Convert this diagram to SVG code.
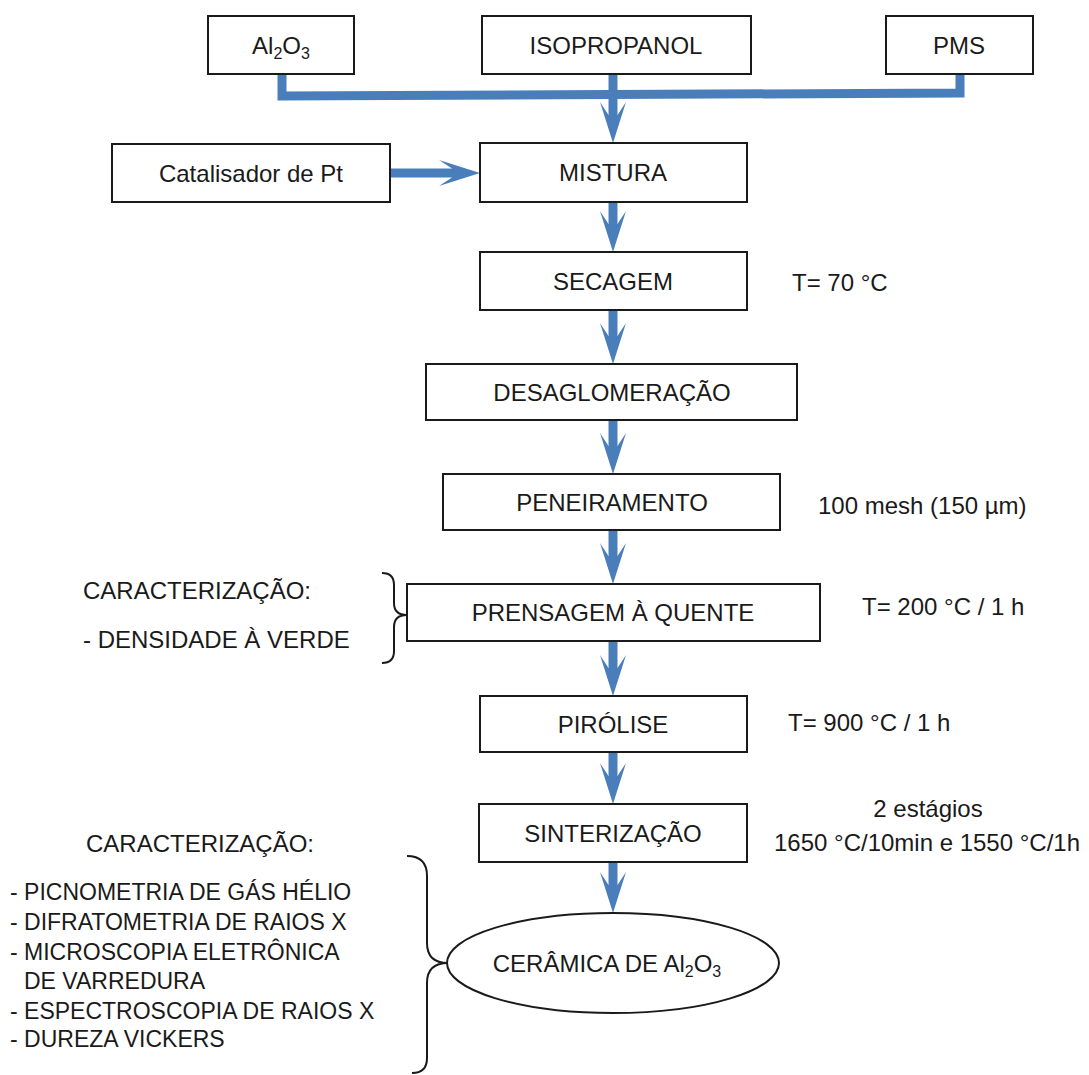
<svg xmlns="http://www.w3.org/2000/svg" width="1089" height="1075" viewBox="0 0 1089 1075">
<style>
.box{fill:#fff;stroke:#1a1a1a;stroke-width:2}
.t{font-family:"Liberation Sans",Arial,sans-serif;font-size:24px;fill:#1a1a1a}
.s{font-size:23px}
.c{text-anchor:middle}
.ln{fill:none;stroke:#4A7EBB;stroke-width:9}
.ah{fill:#4A7EBB}
.br{fill:none;stroke:#1a1a1a;stroke-width:2}
</style>
<defs>
<path id="ad" d="M0,0 L-13,-41 L-4.5,-28 L4.5,-28 L13,-41 Z"/>
</defs>
<rect width="1089" height="1075" fill="#fff"/>
<g id="connectors">
<polyline class="ln" points="282,74 282,96 960,93 960,74"/>
<line class="ln" x1="613" y1="74" x2="613" y2="117"/>
<use href="#ad" class="ah" x="613" y="143"/>
<line class="ln" x1="390" y1="173" x2="454" y2="173"/>
<use href="#ad" class="ah" transform="translate(480,173) rotate(-90)"/>
<line class="ln" x1="613" y1="202" x2="613" y2="226"/>
<use href="#ad" class="ah" x="613" y="252"/>
<line class="ln" x1="613" y1="310" x2="613" y2="338"/>
<use href="#ad" class="ah" x="613" y="364"/>
<line class="ln" x1="613" y1="420" x2="613" y2="448"/>
<use href="#ad" class="ah" x="613" y="474"/>
<line class="ln" x1="613" y1="530" x2="613" y2="558"/>
<use href="#ad" class="ah" x="613" y="584"/>
<line class="ln" x1="613" y1="641" x2="613" y2="670"/>
<use href="#ad" class="ah" x="613" y="696"/>
<line class="ln" x1="613" y1="752" x2="613" y2="778"/>
<use href="#ad" class="ah" x="613" y="804"/>
<line class="ln" x1="613" y1="862" x2="613" y2="887"/>
<use href="#ad" class="ah" x="613" y="913"/>
</g>
<g id="n-al2o3"><rect class="box" x="208" y="16" width="146" height="58"/><text class="t c" x="281" y="54">Al<tspan font-size="16" dy="5">2</tspan><tspan dy="-5">O</tspan><tspan font-size="16" dy="5">3</tspan></text></g>
<g id="n-isopropanol"><rect class="box" x="482" y="16" width="269" height="58"/><text class="t c" x="616" y="54">ISOPROPANOL</text></g>
<g id="n-pms"><rect class="box" x="886" y="16" width="147" height="58"/><text class="t c" x="959" y="54">PMS</text></g>
<g id="n-catalisador"><rect class="box" x="112" y="144" width="278" height="58"/><text class="t c" x="251" y="182">Catalisador de Pt</text></g>
<g id="n-mistura"><rect class="box" x="480" y="143" width="267" height="59"/><text class="t c" x="613" y="181">MISTURA</text></g>
<g id="n-secagem"><rect class="box" x="480" y="252" width="267" height="58"/><text class="t c" x="613" y="290">SECAGEM</text></g>
<g id="n-desaglomeracao"><rect class="box" x="426" y="364" width="371" height="56"/><text class="t c" x="612" y="401">DESAGLOMERAÇÃO</text></g>
<g id="n-peneiramento"><rect class="box" x="443" y="474" width="337" height="56"/><text class="t c" x="612" y="511">PENEIRAMENTO</text></g>
<g id="n-prensagem"><rect class="box" x="407" y="584" width="413" height="57"/><text class="t c" x="613" y="621">PRENSAGEM À QUENTE</text></g>
<g id="n-pirolise"><rect class="box" x="480" y="696" width="267" height="56"/><text class="t c" x="613" y="733">PIRÓLISE</text></g>
<g id="n-sinterizacao"><rect class="box" x="479" y="804" width="268" height="58"/><text class="t c" x="613" y="842">SINTERIZAÇÃO</text></g>
<g id="n-ceramica"><ellipse class="box" cx="613" cy="963" rx="166" ry="50"/><text class="t c" x="607" y="972">CERÂMICA DE Al<tspan font-size="16" dy="5">2</tspan><tspan dy="-5">O</tspan><tspan font-size="16" dy="5">3</tspan></text></g>
<g id="annotations">
<text class="t" x="792" y="291">T= 70 °C</text>
<text class="t" x="818" y="514">100 mesh (150 µm)</text>
<text class="t" x="862" y="615">T= 200 °C / 1 h</text>
<text class="t" x="788" y="731">T= 900 °C / 1 h</text>
<text class="t c" x="928" y="817">2 estágios</text>
<text class="t c" x="927" y="851">1650 °C/10min e 1550 °C/1h</text>
</g>
<g id="caract-1">
<text class="t" x="83" y="599">CARACTERIZAÇÃO:</text>
<text class="t" x="83" y="648">- DENSIDADE À VERDE</text>
<path class="br" d="M382,573 Q394,573 394,585 L394,603 Q394,615 407,615 Q394,615 394,627 L394,651 Q394,663 382,663"/>
</g>
<g id="caract-2">
<text class="t c" x="200" y="852">CARACTERIZAÇÃO:</text>
<text class="t s" x="10" y="900">- PICNOMETRIA DE GÁS HÉLIO</text>
<text class="t s" x="10" y="930">- DIFRATOMETRIA DE RAIOS X</text>
<text class="t s" x="10" y="960">- MICROSCOPIA ELETRÔNICA</text>
<text class="t s" x="24" y="989">DE VARREDURA</text>
<text class="t s" x="10" y="1019">- ESPECTROSCOPIA DE RAIOS X</text>
<text class="t s" x="10" y="1047">- DUREZA VICKERS</text>
<path class="br" d="M407,856 Q427,856 427,876 L427,943 Q427,963 448,963 Q427,963 427,983 L427,1058 Q427,1073 412,1073"/>
</g>
</svg>
